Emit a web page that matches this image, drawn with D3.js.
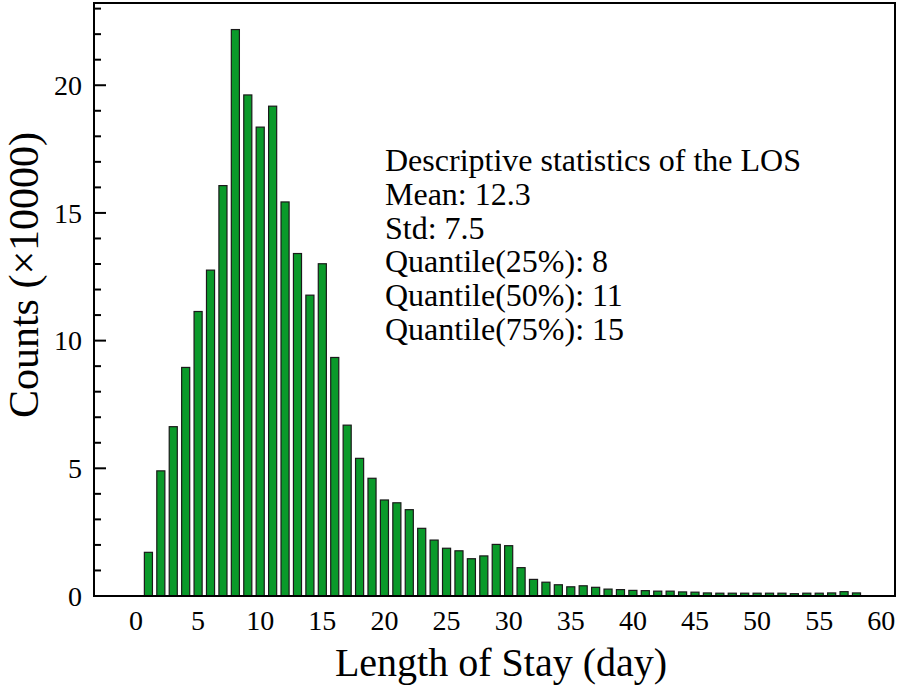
<!DOCTYPE html>
<html><head><meta charset="utf-8">
<script src="https://cdn.jsdelivr.net/npm/d3@7"></script>
<style>body{margin:0;background:#fff}svg{display:block}text{font-family:"Liberation Serif","Times New Roman",serif;fill:#000}</style>
</head><body><svg id="c" width="898" height="686"></svg>
<script>
const days = d3.range(1, 59);
const counts = [1.71,4.90,6.63,8.95,11.14,12.76,16.07,22.18,19.62,18.36,19.18,15.43,13.41,11.78,13.01,9.34,6.69,5.39,4.61,3.76,
3.65,3.38,2.65,2.19,1.87,1.77,1.46,1.57,2.02,1.97,1.11,0.65,0.54,0.44,0.36,0.40,0.34,0.27,0.25,0.22,
0.21,0.19,0.19,0.16,0.15,0.12,0.11,0.11,0.11,0.11,0.11,0.11,0.09,0.11,0.11,0.12,0.17,0.12];
const xTicks = d3.range(0, 61, 5);
const yTicks = [0,5,10,15,20];
const yMinor = d3.range(0, 24, 1);
const statLines = ["Descriptive statistics of the LOS","Mean: 12.3","Std: 7.5","Quantile(25%): 8","Quantile(50%): 11","Quantile(75%): 15"];

const svg = d3.select("#c");
const L = 94, R = 895, T = 3, B = 596;
const x = d3.scaleLinear().domain([-3.38, 61.1]).range([L, R]);
const y = d3.scaleLinear().domain([0, 23.22]).range([B, T]);
const bw = x(0.65) - x(0);

svg.append("g").selectAll("rect").data(days).join("rect")
  .attr("x", d => x(d) - bw/2).attr("width", bw)
  .attr("y", (d,i) => y(counts[i])).attr("height", (d,i) => B - y(counts[i]))
  .attr("fill", "#0a9a2a").attr("stroke", "#1a1a1a").attr("stroke-width", 1.2);

// frame
svg.append("rect").attr("x", L).attr("y", T).attr("width", R-L).attr("height", B-T)
  .attr("fill", "none").attr("stroke", "#000").attr("stroke-width", 2);

// y axis ticks inward
const yAx = svg.append("g").attr("transform", `translate(${L},0)`);
yAx.selectAll("line.mi").data(yMinor.filter(v => v%5 !== 0)).join("line")
  .attr("x1", 0).attr("x2", 7).attr("y1", d => y(d)).attr("y2", d => y(d))
  .attr("stroke", "#000").attr("stroke-width", 2);
yAx.selectAll("line.ma").data(yTicks).join("line")
  .attr("x1", 0).attr("x2", 12).attr("y1", d => y(d)).attr("y2", d => y(d))
  .attr("stroke", "#000").attr("stroke-width", 2);
yAx.selectAll("text").data(yTicks).join("text")
  .attr("x", -12).attr("y", d => y(d)).attr("dy", "0.35em").attr("text-anchor", "end")
  .attr("font-size", 28).text(d => d);

// x tick labels
svg.append("g").selectAll("text").data(xTicks).join("text")
  .attr("x", d => x(d)).attr("y", 630).attr("text-anchor", "middle")
  .attr("font-size", 28).text(d => d);

svg.append("text").attr("x", 501).attr("y", 676).attr("text-anchor", "middle")
  .attr("font-size", 40).text("Length of Stay (day)");
svg.append("text").attr("transform", "translate(38,275) rotate(-90)").attr("text-anchor", "middle")
  .attr("font-size", 42).text("Counts (×10000)");

svg.append("g").selectAll("text").data(statLines).join("text")
  .attr("x", 385).attr("y", (d,i) => 171 + i*33.8).attr("font-size", 32).text(d => d);
</script></body></html>
